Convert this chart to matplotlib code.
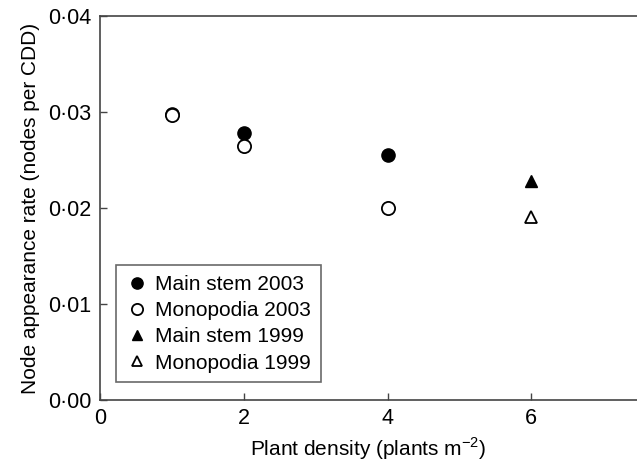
import matplotlib
matplotlib.use("Agg")
import matplotlib.pyplot as plt
from matplotlib.ticker import FuncFormatter

plt.rcParams['font.family'] = ['Liberation Sans', 'DejaVu Sans']
plt.rcParams['mathtext.fontset'] = 'custom'
plt.rcParams['mathtext.rm'] = 'Liberation Sans'

# densities (plants m-2) and node appearance rates (nodes per CDD)
density_2003 = [1, 2, 4]
main_stem_2003 = [0.0298, 0.0278, 0.0255]
monopodia_2003 = [0.0297, 0.0265, 0.0200]
density_1999 = [6]
main_stem_1999 = [0.0228]
monopodia_1999 = [0.0191]

fig = plt.figure(figsize=(6.37, 4.61), dpi=100)
ax = fig.add_axes([0.157, 0.132, 0.843, 0.833])

ms = 9.5
ax.plot(density_2003, main_stem_2003, 'o', color='black', ms=ms, ls='none', label='Main stem 2003')
ax.plot(density_2003, monopodia_2003, 'o', mfc='white', mec='black', mew=1.3, ms=ms, ls='none', label='Monopodia 2003')
ax.plot(density_1999, main_stem_1999, '^', color='black', ms=8.5, ls='none', label='Main stem 1999')
ax.plot(density_1999, monopodia_1999, '^', mfc='white', mec='black', mew=1.3, ms=8.5, ls='none', label='Monopodia 1999')

ax.set_xlim(0, 7.47)
ax.set_ylim(0, 0.04)
ax.set_xticks([0, 2, 4, 6])
ax.set_yticks([0, 0.01, 0.02, 0.03, 0.04])
ax.yaxis.set_major_formatter(FuncFormatter(lambda v, p: f"{v:.2f}".replace('.', '\u00b7')))
ax.tick_params(direction='in', length=5, width=1, labelsize=15.5, color='#444444', pad=6)

for side in ['left', 'bottom', 'top']:
    ax.spines[side].set_color('#444444')
    ax.spines[side].set_linewidth(1.2)
ax.spines['right'].set_visible(False)

ax.set_xlabel('Plant density (plants m$^{\u22122}$)', fontsize=15, labelpad=4)
ax.set_ylabel('Node appearance rate (nodes per CDD)', fontsize=15, labelpad=6)

leg = ax.legend(loc='lower left', fontsize=15, frameon=True, fancybox=False,
                handletextpad=0.35, handlelength=1.1, borderpad=0.45, labelspacing=0.35,
                markerscale=0.85, bbox_to_anchor=(0.01, 0.02))
leg.get_frame().set_edgecolor('#444444')
leg.get_frame().set_linewidth(1.2)

fig.savefig('out.png', dpi=100)
